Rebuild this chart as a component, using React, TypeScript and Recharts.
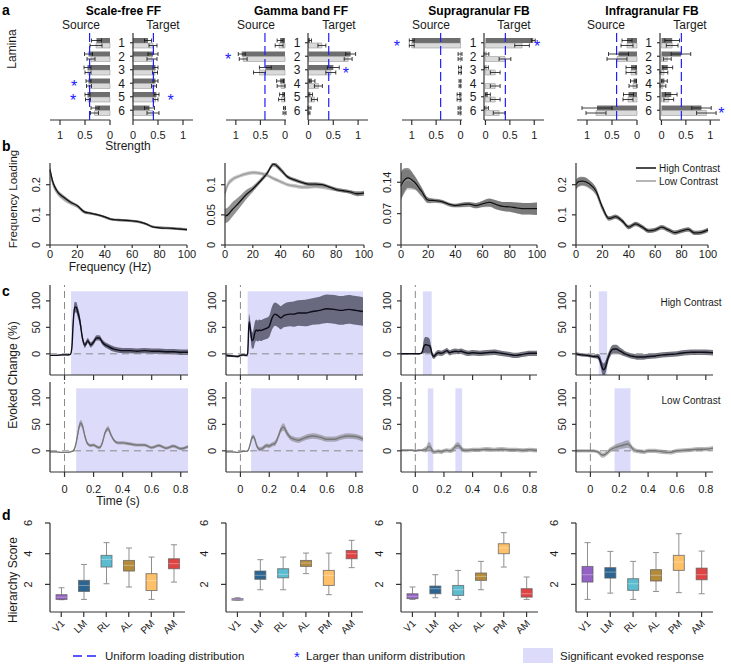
import React from 'react';
import {
  BarChart, Bar, XAxis, YAxis, ErrorBar, ReferenceLine, LabelList,
  ComposedChart, Area, Line, ReferenceArea,
} from 'recharts';

const FONT = '"Liberation Sans", Arial, Helvetica, sans-serif';
const AXIS = '#333333';
const BLUE = '#2020ff';
const LAVENDER = '#dcdcfa';
const TXT = '#1a1a1a';

// ---------------- Panel a : laminar loadings ----------------
const laminae = ['1', '2', '3', '4', '5', '6'];
const columnTitles = ['Scale-free FF', 'Gamma band FF', 'Supragranular FB', 'Infragranular FB'];
const uniformLoading = 0.408;
const strengthTicks = [0, 0.5, 1];

const sfSourceHigh = [0.27, 0.43, 0.45, 0.43, 0.45, 0.30];
const sfSourceLow = [0.28, 0.38, 0.44, 0.42, 0.44, 0.31];
const sfSourceErrHigh = [0.10, 0.08, 0.07, 0.05, 0.05, 0.08];
const sfSourceErrLow = [0.12, 0.08, 0.06, 0.05, 0.05, 0.08];
const sfTargetHigh = [0.30, 0.40, 0.45, 0.45, 0.47, 0.33];
const sfTargetLow = [0.40, 0.38, 0.44, 0.42, 0.45, 0.40];
const sfTargetErrHigh = [0.07, 0.10, 0.05, 0.05, 0.05, 0.10];
const sfTargetErrLow = [0.08, 0.10, 0.05, 0.05, 0.05, 0.12];
const sfSourceStars = [4, 5];
const sfTargetStars = [5];

const gbSourceHigh = [0.10, 0.88, 0.40, 0.10, 0.06, 0.01];
const gbSourceLow = [0.12, 0.85, 0.52, 0.08, 0.07, 0.01];
const gbSourceErrHigh = [0.06, 0.07, 0.12, 0.07, 0.05, 0.02];
const gbSourceErrLow = [0.08, 0.08, 0.12, 0.08, 0.06, 0.03];
const gbTargetHigh = [0.03, 0.85, 0.50, 0.07, 0.04, 0.02];
const gbTargetLow = [0.27, 0.80, 0.45, 0.20, 0.12, 0.01];
const gbTargetErrHigh = [0.03, 0.10, 0.12, 0.06, 0.04, 0.03];
const gbTargetErrLow = [0.08, 0.08, 0.10, 0.08, 0.06, 0.02];
const gbSourceStars = [2];
const gbTargetStars = [3];

const supSourceHigh = [1.0, 0.01, 0.01, 0.01, 0.03, 0.02];
const supSourceLow = [1.0, 0.01, 0.01, 0.01, 0.03, 0.02];
const supSourceErrHigh = [0.05, 0.04, 0.03, 0.02, 0.04, 0.03];
const supSourceErrLow = [0.05, 0.04, 0.03, 0.02, 0.04, 0.03];
const supTargetHigh = [0.98, 0.02, 0.02, 0.0, 0.05, 0.02];
const supTargetLow = [0.75, 0.40, 0.20, 0.20, 0.20, 0.28];
const supTargetErrHigh = [0.04, 0.05, 0.04, 0.03, 0.05, 0.04];
const supTargetErrLow = [0.15, 0.12, 0.10, 0.10, 0.10, 0.12];
const supSourceStars = [1];
const supTargetStars = [1];

const infSourceHigh = [0.20, 0.37, 0.12, 0.07, 0.17, 0.80];
const infSourceLow = [0.20, 0.40, 0.12, 0.08, 0.18, 0.82];
const infSourceErrHigh = [0.10, 0.20, 0.10, 0.06, 0.10, 0.30];
const infSourceErrLow = [0.12, 0.20, 0.10, 0.08, 0.10, 0.20];
const infTargetHigh = [0.22, 0.40, 0.13, 0.06, 0.20, 0.82];
const infTargetLow = [0.22, 0.12, 0.05, 0.03, 0.15, 0.92];
const infTargetErrHigh = [0.15, 0.20, 0.10, 0.06, 0.12, 0.20];
const infTargetErrLow = [0.12, 0.08, 0.08, 0.06, 0.10, 0.20];
const infSourceStars: number[] = [];
const infTargetStars = [6];

// ---------------- Panel b : frequency loadings ----------------
const freqHz = [0, 2, 5, 10, 15, 20, 25, 30, 35, 40, 45, 50, 55, 60, 65, 70, 75, 80, 85, 90, 95, 100];
const freqTicks = [0, 20, 40, 60, 80, 100];

const sfLoadHigh = [0.25, 0.21, 0.18, 0.158, 0.142, 0.13, 0.11, 0.105, 0.1, 0.093, 0.085, 0.083, 0.082, 0.08, 0.077, 0.07, 0.06, 0.057, 0.056, 0.055, 0.053, 0.051];
const sfLoadLow = [0.245, 0.205, 0.176, 0.153, 0.139, 0.127, 0.109, 0.104, 0.099, 0.092, 0.085, 0.083, 0.081, 0.079, 0.076, 0.07, 0.061, 0.058, 0.057, 0.055, 0.054, 0.052];
const sfBandHigh = [0.012, 0.01, 0.008, 0.007, 0.006, 0.005, 0.005, 0.004, 0.004, 0.004, 0.004, 0.004, 0.004, 0.004, 0.004, 0.004, 0.004, 0.004, 0.004, 0.004, 0.004, 0.004];
const sfBandLow = [0.012, 0.01, 0.008, 0.007, 0.006, 0.005, 0.005, 0.004, 0.004, 0.004, 0.004, 0.004, 0.004, 0.004, 0.004, 0.004, 0.004, 0.004, 0.004, 0.004, 0.004, 0.004];

const gbLoadHigh = [0.048, 0.05, 0.058, 0.07, 0.083, 0.093, 0.105, 0.118, 0.134, 0.125, 0.113, 0.108, 0.104, 0.101, 0.101, 0.1, 0.096, 0.092, 0.09, 0.088, 0.085, 0.086];
const gbLoadLow = [0.086, 0.1, 0.108, 0.114, 0.118, 0.12, 0.119, 0.116, 0.11, 0.105, 0.1, 0.098, 0.096, 0.096, 0.097, 0.096, 0.094, 0.092, 0.09, 0.088, 0.085, 0.085];
const gbBandHigh = [0.012, 0.012, 0.012, 0.01, 0.008, 0.005, 0.004, 0.004, 0.004, 0.004, 0.003, 0.003, 0.003, 0.003, 0.003, 0.003, 0.003, 0.003, 0.003, 0.003, 0.004, 0.004];
const gbBandLow = [0.006, 0.005, 0.004, 0.003, 0.003, 0.003, 0.003, 0.003, 0.003, 0.003, 0.003, 0.003, 0.003, 0.003, 0.003, 0.003, 0.003, 0.003, 0.003, 0.003, 0.003, 0.003];

const supLoadHigh = [0.132, 0.143, 0.15, 0.14, 0.12, 0.1, 0.099, 0.097, 0.091, 0.088, 0.09, 0.091, 0.088, 0.092, 0.095, 0.09, 0.086, 0.085, 0.083, 0.081, 0.081, 0.081];
const supLoadLow = [0.13, 0.14, 0.146, 0.138, 0.118, 0.099, 0.098, 0.096, 0.09, 0.088, 0.089, 0.09, 0.088, 0.091, 0.094, 0.089, 0.086, 0.085, 0.083, 0.081, 0.081, 0.081];
const supBandHigh = [0.03, 0.028, 0.022, 0.015, 0.01, 0.006, 0.004, 0.004, 0.004, 0.004, 0.005, 0.005, 0.006, 0.007, 0.009, 0.01, 0.01, 0.011, 0.012, 0.013, 0.013, 0.014];
const supBandLow = [0.03, 0.028, 0.022, 0.015, 0.01, 0.006, 0.004, 0.004, 0.004, 0.004, 0.005, 0.005, 0.006, 0.007, 0.009, 0.01, 0.01, 0.011, 0.012, 0.013, 0.013, 0.014];

const infLoadHigh = [0.2, 0.21, 0.212, 0.203, 0.18, 0.125, 0.088, 0.094, 0.08, 0.059, 0.07, 0.06, 0.047, 0.05, 0.059, 0.05, 0.041, 0.047, 0.052, 0.04, 0.042, 0.05];
const infLoadLow = [0.198, 0.207, 0.21, 0.2, 0.178, 0.122, 0.087, 0.093, 0.079, 0.059, 0.069, 0.059, 0.047, 0.05, 0.058, 0.049, 0.041, 0.047, 0.051, 0.04, 0.042, 0.049];
const infBandHigh = [0.016, 0.015, 0.014, 0.013, 0.012, 0.01, 0.007, 0.007, 0.007, 0.007, 0.007, 0.007, 0.007, 0.007, 0.007, 0.007, 0.007, 0.007, 0.007, 0.007, 0.007, 0.007];
const infBandLow = [0.016, 0.015, 0.014, 0.013, 0.012, 0.01, 0.007, 0.007, 0.007, 0.007, 0.007, 0.007, 0.007, 0.007, 0.007, 0.007, 0.007, 0.007, 0.007, 0.007, 0.007, 0.007];

// ---------------- Panel c : evoked change ----------------
const timeS = [-0.1, -0.06, -0.02, 0, 0.02, 0.04, 0.05, 0.06, 0.07, 0.08, 0.09, 0.1, 0.11, 0.12, 0.13, 0.14, 0.16, 0.18, 0.2, 0.22, 0.24, 0.26, 0.28, 0.3, 0.32, 0.34, 0.37, 0.4, 0.45, 0.5, 0.55, 0.6, 0.65, 0.7, 0.75, 0.8, 0.85];
const timeTicks = [0, 0.2, 0.4, 0.6, 0.8];
const evokedTicks = [0, 50, 100];

const sfEvokedHigh = [-3, -3, -2, -2, -2, -1, 10, 60, 88, 88, 80, 70, 55, 35, 22, 16, 25, 17, 22, 30, 30, 22, 17, 14, 11, 9, 7, 6, 6, 5, 6, 5, 5, 4, 4, 3, 3];
const sfEvokedHighCI = [1, 1, 1, 1, 1, 1, 4, 9, 10, 10, 10, 10, 9, 7, 5, 5, 5, 5, 5, 5, 5, 5, 5, 5, 5, 5, 5, 5, 5, 5, 5, 5, 5, 5, 5, 5, 5];
const sfEvokedLow = [-2, -2, -3, -3, -3, -2, -1, 0, 5, 15, 30, 45, 52, 50, 40, 28, 13, 10, 11, 8, 6, 15, 35, 42, 30, 20, 15, 15, 13, 11, 11, 6, 10, 5, 9, 4, 8];
const sfEvokedLowCI = [1, 1, 1, 1, 1, 1, 1, 2, 3, 4, 5, 6, 6, 6, 5, 4, 3, 3, 3, 3, 3, 3, 4, 5, 4, 3, 3, 3, 3, 3, 3, 3, 3, 3, 3, 3, 3];

const gbEvokedHigh = [-3, -4, -5, -3, -2, -3, 0, 60, 45, 25, 28, 40, 45, 43, 45, 44, 46, 48, 52, 68, 75, 72, 68, 72, 74, 75, 75, 77, 77, 80, 82, 85, 84, 82, 84, 82, 80];
const gbEvokedHighCI = [2, 2, 2, 2, 2, 2, 5, 15, 15, 15, 18, 20, 20, 20, 20, 20, 20, 20, 20, 22, 22, 22, 22, 22, 23, 23, 24, 24, 25, 25, 26, 27, 27, 27, 27, 27, 27];
const gbEvokedLow = [-2, -2, -3, -2, -1, -1, 0, 5, 15, 25, 27, 22, 12, 6, 3, 3, 6, 10, 9, 12, 14, 25, 40, 45, 35, 27, 22, 20, 25, 28, 26, 22, 22, 26, 28, 27, 22];
const gbEvokedLowCI = [1, 1, 1, 1, 1, 1, 1, 2, 3, 4, 4, 4, 4, 4, 4, 4, 4, 4, 4, 4, 5, 5, 6, 7, 6, 5, 5, 5, 5, 5, 5, 5, 5, 5, 5, 5, 5];

const supEvokedHigh = [0, 0, 0, 0, 0, 1, 5, 14, 17, 17, 16, 15, 8, -3, -5, -2, 2, 1, 3, 6, 2, 4, 5, 4, 5, 3, 1, 2, 1, 2, 3, 1, -1, -3, -1, 1, 1];
const supEvokedHighCI = [1, 1, 1, 1, 1, 1, 5, 13, 15, 15, 15, 13, 8, 5, 5, 5, 5, 5, 5, 5, 5, 5, 5, 5, 5, 5, 5, 5, 5, 5, 5, 5, 5, 5, 5, 5, 5];
const supEvokedLow = [1, 1, 1, 0, 1, 1, 1, 2, 2, 4, 8, 8, 5, 0, -2, -2, -1, -2, 0, 1, 0, 2, 8, 10, 5, 1, 1, 2, 2, 3, 2, 3, 2, 2, 1, 2, 1];
const supEvokedLowCI = [2, 2, 2, 2, 2, 2, 3, 4, 5, 6, 8, 8, 7, 5, 4, 4, 4, 4, 4, 4, 4, 5, 6, 6, 5, 4, 4, 4, 4, 4, 4, 4, 4, 4, 4, 4, 4];

const infEvokedHigh = [0, -2, -3, -4, -5, -5, -5, -8, -15, -25, -30, -28, -20, -10, -2, 4, 9, 9, 6, 3, 0, -2, -4, -5, -6, -6, -6, -5, -4, -2, -1, 0, 2, 3, 3, 3, 2];
const infEvokedHighCI = [3, 3, 3, 3, 3, 4, 5, 7, 9, 11, 12, 12, 11, 9, 8, 8, 8, 8, 7, 6, 5, 5, 5, 5, 5, 5, 5, 5, 5, 5, 5, 5, 5, 5, 5, 5, 5];
const infEvokedLow = [0, 0, 0, 0, 0, -1, -2, -4, -6, -8, -8, -7, -5, -3, 0, 2, 5, 7, 9, 10, 12, 13, 8, 2, 0, -1, -2, 0, 0, -2, -3, 0, 1, 2, 3, 3, 5];
const infEvokedLowCI = [3, 3, 3, 3, 3, 3, 3, 4, 5, 5, 5, 5, 5, 5, 5, 5, 5, 6, 6, 6, 7, 7, 6, 5, 4, 4, 4, 4, 4, 4, 4, 4, 4, 4, 4, 4, 4];

// significant evoked response windows (s)
const sfSigHigh = [[0.045, 0.85]];
const sfSigLow = [[0.08, 0.85]];
const gbSigHigh = [[0.05, 0.85]];
const gbSigLow = [[0.074, 0.85]];
const supSigHigh = [[0.053, 0.115]];
const supSigLow = [[0.087, 0.126], [0.28, 0.327]];
const infSigHigh = [[0.058, 0.116]];
const infSigLow = [[0.167, 0.278]];

// ---------------- Panel d : hierarchy score ----------------
const visualAreas = ['V1', 'LM', 'RL', 'AL', 'PM', 'AM'];
const hierTicks = [2, 4, 6];

const sfHierMin = [1.0, 1.02, 2.04, 1.83, 1.02, 2.15];
const sfHierQ1 = [1.02, 1.54, 3.13, 2.87, 1.6, 3.02];
const sfHierMed = [1.17, 1.93, 3.63, 3.24, 2.26, 3.35];
const sfHierQ3 = [1.33, 2.26, 3.89, 3.56, 2.7, 3.67];
const sfHierMax = [1.78, 3.3, 4.72, 4.37, 3.78, 4.58];

const gbHierMin = [0.98, 1.65, 1.65, 2.7, 1.33, 3.09];
const gbHierQ1 = [1.0, 2.33, 2.43, 3.17, 1.93, 3.67];
const gbHierMed = [1.03, 2.59, 2.65, 3.39, 2.59, 4.0];
const gbHierQ3 = [1.07, 2.87, 3.02, 3.56, 2.91, 4.21];
const gbHierMax = [1.13, 3.61, 3.78, 4.04, 4.04, 4.87];

const supHierMin = [1.02, 1.13, 1.02, 1.65, 3.13, 1.02];
const supHierQ1 = [1.07, 1.39, 1.28, 2.26, 4.0, 1.17];
const supHierMed = [1.22, 1.72, 1.65, 2.52, 4.37, 1.39];
const supHierQ3 = [1.39, 1.89, 1.93, 2.74, 4.65, 1.72];
const supHierMax = [1.83, 2.63, 2.91, 3.5, 5.37, 2.48];

const infHierMin = [1.02, 1.43, 1.02, 1.54, 1.46, 1.39];
const infHierQ1 = [2.15, 2.41, 1.61, 2.22, 2.91, 2.3];
const infHierMed = [2.63, 2.8, 2.04, 2.59, 3.46, 2.63];
const infHierQ3 = [3.17, 3.09, 2.37, 2.96, 3.89, 3.06];
const infHierMax = [4.72, 4.15, 3.5, 4.07, 5.3, 4.17];

// ---------------- styling / layout ----------------
const areaColors = ['#9461c4', '#2c6591', '#5cbdd1', '#b48b3b', '#fec068', '#df4343'];

const colLayout = [
  { src: 110, tgt: 133, bx: 50, bw: 137, cx: 50, cw: 138, dx: 50, dw: 135 },
  { src: 286, tgt: 308, bx: 225, bw: 139, cx: 226, cw: 137, dx: 226, dw: 137 },
  { src: 462, tgt: 484, bx: 401, bw: 136, cx: 401, cw: 136, dx: 401, dw: 137 },
  { src: 637, tgt: 660, bx: 576, bw: 132, cx: 576, cw: 137, dx: 576, dw: 137 },
];

const columns = [
  {
    srcHigh: sfSourceHigh, srcLow: sfSourceLow, srcErrHigh: sfSourceErrHigh, srcErrLow: sfSourceErrLow, srcStars: sfSourceStars,
    tgtHigh: sfTargetHigh, tgtLow: sfTargetLow, tgtErrHigh: sfTargetErrHigh, tgtErrLow: sfTargetErrLow, tgtStars: sfTargetStars,
    loadHigh: sfLoadHigh, loadLow: sfLoadLow, bandHigh: sfBandHigh, bandLow: sfBandLow, yMax: 0.272, yTicks: [0, 0.1, 0.2],
    evHigh: sfEvokedHigh, evHighCI: sfEvokedHighCI, evLow: sfEvokedLow, evLowCI: sfEvokedLowCI, sigHigh: sfSigHigh, sigLow: sfSigLow,
    hMin: sfHierMin, hQ1: sfHierQ1, hMed: sfHierMed, hQ3: sfHierQ3, hMax: sfHierMax,
  },
  {
    srcHigh: gbSourceHigh, srcLow: gbSourceLow, srcErrHigh: gbSourceErrHigh, srcErrLow: gbSourceErrLow, srcStars: gbSourceStars,
    tgtHigh: gbTargetHigh, tgtLow: gbTargetLow, tgtErrHigh: gbTargetErrHigh, tgtErrLow: gbTargetErrLow, tgtStars: gbTargetStars,
    loadHigh: gbLoadHigh, loadLow: gbLoadLow, bandHigh: gbBandHigh, bandLow: gbBandLow, yMax: 0.136, yTicks: [0, 0.05, 0.1],
    evHigh: gbEvokedHigh, evHighCI: gbEvokedHighCI, evLow: gbEvokedLow, evLowCI: gbEvokedLowCI, sigHigh: gbSigHigh, sigLow: gbSigLow,
    hMin: gbHierMin, hQ1: gbHierQ1, hMed: gbHierMed, hQ3: gbHierQ3, hMax: gbHierMax,
  },
  {
    srcHigh: supSourceHigh, srcLow: supSourceLow, srcErrHigh: supSourceErrHigh, srcErrLow: supSourceErrLow, srcStars: supSourceStars,
    tgtHigh: supTargetHigh, tgtLow: supTargetLow, tgtErrHigh: supTargetErrHigh, tgtErrLow: supTargetErrLow, tgtStars: supTargetStars,
    loadHigh: supLoadHigh, loadLow: supLoadLow, bandHigh: supBandHigh, bandLow: supBandLow, yMax: 0.183, yTicks: [0, 0.07, 0.14],
    evHigh: supEvokedHigh, evHighCI: supEvokedHighCI, evLow: supEvokedLow, evLowCI: supEvokedLowCI, sigHigh: supSigHigh, sigLow: supSigLow,
    hMin: supHierMin, hQ1: supHierQ1, hMed: supHierMed, hQ3: supHierQ3, hMax: supHierMax,
  },
  {
    srcHigh: infSourceHigh, srcLow: infSourceLow, srcErrHigh: infSourceErrHigh, srcErrLow: infSourceErrLow, srcStars: infSourceStars,
    tgtHigh: infTargetHigh, tgtLow: infTargetLow, tgtErrHigh: infTargetErrHigh, tgtErrLow: infTargetErrLow, tgtStars: infTargetStars,
    loadHigh: infLoadHigh, loadLow: infLoadLow, bandHigh: infBandHigh, bandLow: infBandLow, yMax: 0.272, yTicks: [0, 0.1, 0.2],
    evHigh: infEvokedHigh, evHighCI: infEvokedHighCI, evLow: infEvokedLow, evLowCI: infEvokedLowCI, sigHigh: infSigHigh, sigLow: infSigLow,
    hMin: infHierMin, hQ1: infHierQ1, hMed: infHierMed, hQ3: infHierQ3, hMax: infHierMax,
  },
];

const PAD = 20;
function frame(plotX: number, plotY: number, plotW: number, plotH: number, yW: number, xH: number) {
  return {
    style: { position: 'absolute' as const, left: plotX - yW - PAD, top: plotY - PAD },
    width: PAD + yW + plotW + PAD,
    height: PAD + plotH + xH + PAD,
    margin: { top: PAD, right: PAD, bottom: PAD, left: PAD },
  };
}

const tickFont = { fontSize: 11, fill: TXT, fontFamily: FONT };

function RotYTick(props: any) {
  const { x, y, payload } = props;
  return (
    <text x={x} y={y} transform={`rotate(-90 ${x} ${y})`} textAnchor="middle" fontSize={11} fontFamily={FONT} fill={TXT}>
      {String(payload.value)}
    </text>
  );
}

// ---------------- components ----------------
function LaminaBars(props: any) {
  const { side, zero, gap, high, low, errHigh, errLow, stars } = props;
  const isSource = side === 'source';
  const data = laminae.map((lam, i) => ({
    lamina: lam, high: high[i], low: low[i], errHigh: errHigh[i], errLow: errLow[i],
    star: stars.includes(i + 1) ? 1 : 0,
  }));
  const plotW = 60;
  const yW = isSource ? 0 : gap;
  const f = frame(isSource ? zero - plotW : zero, 33, plotW, 87, yW, 26);
  const renderStar = (p: any) => {
    if (!p.value) return null;
    const vb = p.viewBox || p;
    const x0 = Number(vb.x);
    const x1 = Number(vb.x) + Number(vb.width);
    const end = isSource ? Math.min(x0, x1) : Math.max(x0, x1);
    const sx = isSource ? end - 15 : end + 15;
    return (
      <text x={sx} y={Number(vb.y) + 8.5} textAnchor="middle" fontSize={16} fill={BLUE} fontFamily={FONT}>*</text>
    );
  };
  const laminaTick = (p: any) => (
    <text x={p.x + 3 - gap / 2} y={p.y + 4.3} textAnchor="middle" fontSize={12} fontFamily={FONT} fill={TXT}>
      {p.payload.value}
    </text>
  );
  return (
    <div style={f.style}>
      <BarChart layout="vertical" width={f.width} height={f.height} data={data} margin={f.margin} barGap={0} barSize={5}>
        <XAxis type="number" domain={[0, 1.2]} ticks={strengthTicks} interval={0} reversed={isSource} height={26}
          tickSize={5} tickMargin={6} stroke={AXIS} strokeWidth={1.2} tick={tickFont} />
        {isSource ? (
          <YAxis type="category" dataKey="lamina" orientation="right" width={0} tick={false} tickLine={false}
            interval={0} stroke={AXIS} strokeWidth={1.2} padding={{ top: 3, bottom: 3 }} />
        ) : (
          <YAxis type="category" dataKey="lamina" orientation="left" width={yW} tickSize={3} tickMargin={0}
            interval={0} stroke={AXIS} strokeWidth={1.2} tick={laminaTick} padding={{ top: 3, bottom: 3 }} />
        )}
        <Bar dataKey="high" fill="#6e6e6e" isAnimationActive={false}>
          <ErrorBar dataKey="errHigh" direction="x" width={2} stroke="#111" strokeWidth={0.8} />
        </Bar>
        <Bar dataKey="low" fill="#dadada" stroke="#8a8a8a" strokeWidth={0.5} isAnimationActive={false}>
          <ErrorBar dataKey="errLow" direction="x" width={2} stroke="#111" strokeWidth={0.8} />
          <LabelList dataKey="star" content={renderStar} />
        </Bar>
        <ReferenceLine x={uniformLoading} stroke={BLUE} strokeDasharray="9 4" strokeWidth={1.2} />
      </BarChart>
    </div>
  );
}

function LoadingChart(props: any) {
  const { x, w, yMax, yTicks, high, low, bandHigh, bandLow } = props;
  const data = freqHz.map((fz, i) => ({
    f: fz, high: high[i], low: low[i],
    hiBand: [high[i] - bandHigh[i], high[i] + bandHigh[i]],
    loBand: [low[i] - bandLow[i], low[i] + bandLow[i]],
  }));
  const yW = 30;
  const fr = frame(x, 163, w, 82, yW, 22);
  return (
    <div style={fr.style}>
      <ComposedChart width={fr.width} height={fr.height} data={data} margin={fr.margin}>
        <XAxis type="number" dataKey="f" domain={[0, 100]} ticks={freqTicks} interval={0} tickSize={3} tickMargin={2}
          height={22} stroke={AXIS} strokeWidth={1.2} tick={tickFont} />
        <YAxis type="number" domain={[0, yMax]} ticks={yTicks} interval={0} allowDataOverflow width={yW} tickSize={4}
          tickMargin={6} stroke={AXIS} strokeWidth={1.2} tick={(p: any) => <RotYTick {...p} />} />
        <Area type="monotone" dataKey="loBand" stroke="none" fill="#8e8e8e" fillOpacity={0.5} isAnimationActive={false} />
        <Area type="monotone" dataKey="hiBand" stroke="none" fill="#4a4a4a" fillOpacity={0.6} isAnimationActive={false} />
        <Line type="monotone" dataKey="low" stroke="#9c9c9c" strokeWidth={1.3} dot={false} isAnimationActive={false} />
        <Line type="monotone" dataKey="high" stroke="#111" strokeWidth={1.3} dot={false} isAnimationActive={false} />
      </ComposedChart>
    </div>
  );
}

function EvokedChart(props: any) {
  const { x, w, top, mean, ci, sig, isHigh, showLabels } = props;
  const data = timeS.map((t, i) => ({ t, mean: mean[i], band: [mean[i] - ci[i], mean[i] + ci[i]] }));
  const yW = 30;
  const xH = showLabels ? 24 : 8;
  const fr = frame(x, top, w, 90, yW, xH);
  return (
    <div style={fr.style}>
      <ComposedChart width={fr.width} height={fr.height} data={data} margin={fr.margin}>
        <XAxis type="number" dataKey="t" domain={[-0.1, 0.85]} ticks={timeTicks} interval={0} tickSize={5} tickMargin={8}
          height={xH} stroke={AXIS} strokeWidth={1.2} tick={showLabels ? tickFont : () => <g />} />
        <YAxis type="number" domain={[-40, 130]} ticks={evokedTicks} interval={0} allowDataOverflow width={yW} tickSize={4}
          tickMargin={6} stroke={AXIS} strokeWidth={1.2} tick={(p: any) => <RotYTick {...p} />} />
        {sig.map((s: number[], k: number) => (
          <ReferenceArea key={k} x1={s[0]} x2={s[1]} y1={-40} y2={118} fill={LAVENDER} fillOpacity={1} stroke="none" />
        ))}
        <ReferenceLine x={0} stroke="#8a8a8a" strokeDasharray="7 4" strokeWidth={1} />
        <ReferenceLine y={0} stroke="#8a8a8a" strokeDasharray="7 5" strokeWidth={1} />
        <Area type="monotone" dataKey="band" stroke="none" fill={isHigh ? '#222233' : '#666'} fillOpacity={isHigh ? 0.62 : 0.45}
          isAnimationActive={false} />
        <Line type="monotone" dataKey="mean" stroke={isHigh ? '#0d0d1a' : '#777'} strokeWidth={1.4} dot={false}
          isAnimationActive={false} />
      </ComposedChart>
    </div>
  );
}

function BoxShape(props: any) {
  const { x, y, width, height, payload, index } = props;
  if (!payload) return null;
  const top = Math.min(y, y + height);
  const bottom = Math.max(y, y + height);
  const lo = payload.min;
  const hi = payload.max;
  const py = (v: number) => bottom - ((bottom - top) * (v - lo)) / (hi - lo);
  const cx = x + width / 2;
  const wc = '#8f8f8f';
  return (
    <g>
      <line x1={cx} x2={cx} y1={py(hi)} y2={py(payload.q3)} stroke={wc} strokeWidth={1} />
      <line x1={cx} x2={cx} y1={py(payload.q1)} y2={py(lo)} stroke={wc} strokeWidth={1} />
      <line x1={cx - 3} x2={cx + 3} y1={py(hi)} y2={py(hi)} stroke={wc} strokeWidth={1} />
      <line x1={cx - 3} x2={cx + 3} y1={py(lo)} y2={py(lo)} stroke={wc} strokeWidth={1} />
      <rect x={x} y={py(payload.q3)} width={width} height={Math.max(1.5, py(payload.q1) - py(payload.q3))}
        fill={areaColors[index % areaColors.length]} stroke="#5a5a5a" strokeOpacity={0.7} strokeWidth={1} />
      <line x1={x} x2={x + width} y1={py(payload.med)} y2={py(payload.med)} stroke="#ffffff" strokeOpacity={0.35} strokeWidth={1} />
    </g>
  );
}

function AreaTick(props: any) {
  const { x, y, payload } = props;
  const ax = x + 4;
  const ay = y + 5;
  return (
    <text x={ax} y={ay} transform={`rotate(-45 ${ax} ${ay})`} textAnchor="end" fontSize={10} fontFamily={FONT} fill={TXT}>
      {payload.value}
    </text>
  );
}

function HierarchyChart(props: any) {
  const { x, w, mins, q1s, meds, q3s, maxs } = props;
  const data = visualAreas.map((a, i) => ({
    area: a, min: mins[i], q1: q1s[i], med: meds[i], q3: q3s[i], max: maxs[i], span: [mins[i], maxs[i]],
  }));
  const yW = 30;
  const fr = frame(x, 522.7, w, 89, yW, 30);
  return (
    <div style={fr.style}>
      <ComposedChart width={fr.width} height={fr.height} data={data} margin={fr.margin}>
        <XAxis type="category" dataKey="area" interval={0} tickSize={5} tickMargin={2} height={30} stroke={AXIS}
          strokeWidth={1.2} tick={(p: any) => <AreaTick {...p} />} />
        <YAxis type="number" domain={[0.2, 6]} ticks={hierTicks} interval={0} allowDataOverflow width={yW} tickSize={5}
          tickMargin={13} stroke={AXIS} strokeWidth={1.2} tick={(p: any) => <RotYTick {...p} />} />
        <Bar dataKey="span" barSize={11} isAnimationActive={false} shape={(p: any) => <BoxShape {...p} />} />
      </ComposedChart>
    </div>
  );
}

const titleX = [123.5, 301, 479, 652];
const sourceX = [81, 256, 431, 606];
const targetX = [163, 339, 514, 690];

export default function App() {
  return (
    <div style={{ position: 'absolute', left: 0, top: 0, width: 731, height: 665, background: '#fff', overflow: 'hidden', fontFamily: FONT }}>
      {columns.map((c, i) => {
        const L = colLayout[i];
        const gap = L.tgt - L.src;
        return (
          <React.Fragment key={i}>
            <LaminaBars side="source" zero={L.src} gap={gap} high={c.srcHigh} low={c.srcLow} errHigh={c.srcErrHigh}
              errLow={c.srcErrLow} stars={c.srcStars} />
            <LaminaBars side="target" zero={L.tgt} gap={gap} high={c.tgtHigh} low={c.tgtLow} errHigh={c.tgtErrHigh}
              errLow={c.tgtErrLow} stars={c.tgtStars} />
            <LoadingChart x={L.bx} w={L.bw} yMax={c.yMax} yTicks={c.yTicks} high={c.loadHigh} low={c.loadLow}
              bandHigh={c.bandHigh} bandLow={c.bandLow} />
            <EvokedChart x={L.cx} w={L.cw} top={285} mean={c.evHigh} ci={c.evHighCI} sig={c.sigHigh} isHigh showLabels={false} />
            <EvokedChart x={L.cx} w={L.cw} top={382} mean={c.evLow} ci={c.evLowCI} sig={c.sigLow} isHigh={false} showLabels />
            <HierarchyChart x={L.dx} w={L.dw} mins={c.hMin} q1s={c.hQ1} meds={c.hMed} q3s={c.hQ3} maxs={c.hMax} />
          </React.Fragment>
        );
      })}
      <svg width={731} height={665} style={{ position: 'absolute', left: 0, top: 0, pointerEvents: 'none' }} fontFamily={FONT}>
        <text x={2} y={15} fontSize={14} fontWeight="bold" fill="#000">a</text>
        <text x={2} y={151} fontSize={14} fontWeight="bold" fill="#000">b</text>
        <text x={2} y={296} fontSize={14} fontWeight="bold" fill="#000">c</text>
        <text x={2} y={520} fontSize={14} fontWeight="bold" fill="#000">d</text>
        {columnTitles.map((t, i) => (
          <text key={t} x={titleX[i]} y={15} textAnchor="middle" fontSize={12} fontWeight="bold" fill="#000">{t}</text>
        ))}
        {sourceX.map((sx, i) => (
          <text key={'s' + i} x={sx} y={28.5} textAnchor="middle" fontSize={12} fill={TXT}>Source</text>
        ))}
        {targetX.map((tx, i) => (
          <text key={'t' + i} x={tx} y={28.5} textAnchor="middle" fontSize={12} fill={TXT}>Target</text>
        ))}
        <text transform="translate(12,49) rotate(-90)" textAnchor="middle" dominantBaseline="central" fontSize={12} fill={TXT}>Lamina</text>
        <text x={128} y={150} textAnchor="middle" fontSize={12} fill={TXT}>Strength</text>
        <text transform="translate(13,199) rotate(-90)" textAnchor="middle" dominantBaseline="central" fontSize={11.5} fill={TXT}>Frequency Loading</text>
        <text x={110} y={271} textAnchor="middle" fontSize={12} fill={TXT}>Frequency (Hz)</text>
        <text transform="translate(13,375) rotate(-90)" textAnchor="middle" dominantBaseline="central" fontSize={12} fill={TXT}>Evoked Change (%)</text>
        <text x={118} y={505} textAnchor="middle" fontSize={12} fill={TXT}>Time (s)</text>
        <text transform="translate(13,580) rotate(-90)" textAnchor="middle" dominantBaseline="central" fontSize={12} fill={TXT}>Hierarchy Score</text>
        <text x={691} y={306} textAnchor="middle" fontSize={10} fill={TXT}>High Contrast</text>
        <text x={691} y={404} textAnchor="middle" fontSize={10} fill={TXT}>Low Contrast</text>
        {/* panel b legend */}
        <line x1={636} x2={656} y1={168} y2={168} stroke="#111" strokeWidth={1.5} />
        <line x1={636} x2={656} y1={181} y2={181} stroke="#9c9c9c" strokeWidth={1.5} />
        <text x={659} y={171.5} fontSize={10} fill={TXT}>High Contrast</text>
        <text x={659} y={184.5} fontSize={10} fill={TXT}>Low Contrast</text>
        {/* bottom legend */}
        <line x1={73} x2={96} y1={656} y2={656} stroke={BLUE} strokeWidth={1.5} strokeDasharray="9 5" />
        <text x={105} y={660} fontSize={11.5} fill={TXT}>Uniform loading distribution</text>
        <text x={297} y={662} textAnchor="middle" fontSize={15} fill={BLUE}>*</text>
        <text x={306} y={660} fontSize={11.5} fill={TXT}>Larger than uniform distribution</text>
        <rect x={523} y={648} width={30} height={15} fill={LAVENDER} />
        <text x={560} y={660} fontSize={11.5} fill={TXT}>Significant evoked response</text>
      </svg>
    </div>
  );
}
